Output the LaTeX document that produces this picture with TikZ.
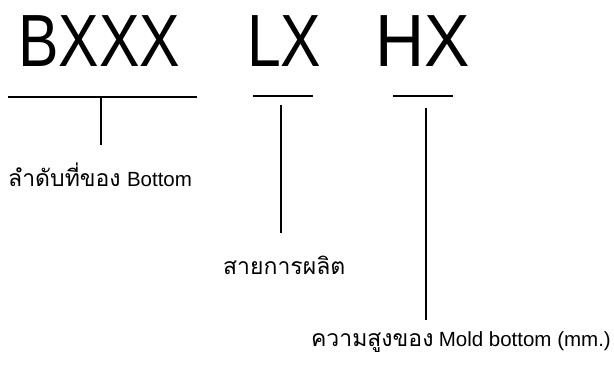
\documentclass[tikz,border=0pt]{standalone}
\usepackage{fontspec}
\newfontfamily\codefont[FakeStretch=0.82]{Liberation Sans}
\newfontfamily\codewidefont[FakeStretch=0.92]{Liberation Sans}
\newfontfamily\thaifont[Script=Thai]{Loma}
\newfontfamily\latfont{Liberation Sans}
\newcommand{\thaiword}[1]{{\thaifont\fontsize{23}{26}\selectfont #1}}
\newcommand{\latword}[1]{{\latfont\fontsize{20.5}{26}\selectfont #1}}
\begin{document}
\begin{tikzpicture}[x=1pt,y=-1pt,
  code/.style={font=\codefont\fontsize{74}{74}\selectfont, inner sep=0pt, anchor=base west},
  codewide/.style={font=\codewidefont\fontsize{74}{74}\selectfont, inner sep=0pt, anchor=base west},
  lab/.style={inner sep=0pt, anchor=base west},
  rule/.style={line width=1.3pt, black}]
\useasboundingbox (0,0) rectangle (614,371);
% codes
\node[code] (b) at (18,67) {BXXX};
\node[code] (l) at (247,67) {LX};
\node[codewide] (h) at (375,67) {HX};
% underline end points
\coordinate (b1) at (8,97);  \coordinate (b2) at (197,97);
\coordinate (l1) at (253,96); \coordinate (l2) at (313,96);
\coordinate (h1) at (393,96); \coordinate (h2) at (453,96);
% vertical line top ends
\coordinate (bt) at (101,98);
\coordinate (lt) at (281,105);
\coordinate (ht) at (426,108);
% vertical line bottom ends
\coordinate (bb) at (101,145);
\coordinate (lb) at (281,233);
\coordinate (hb) at (426,320);
% labels
\node[lab] (lab1) at (8,187) {\thaiword{ลำดับที่ของ}\hspace{3pt} \latword{Bottom}};
\node[lab] (lab2) at (223,275) {\thaiword{สายการผลิต}};
\node[lab, anchor=base east] (lab3) at (611,347) {\thaiword{ความสูงของ}\hspace{2pt} \latword{Mold bottom (mm.)}};
% lines
\draw[rule] (b1) -- (b2);
\draw[rule] (l1) -- (l2);
\draw[rule] (h1) -- (h2);
\draw[rule] (bt) -- (bb);
\draw[rule] (lt) -- (lb);
\draw[rule] (ht) -- (hb);
\end{tikzpicture}
\end{document}
